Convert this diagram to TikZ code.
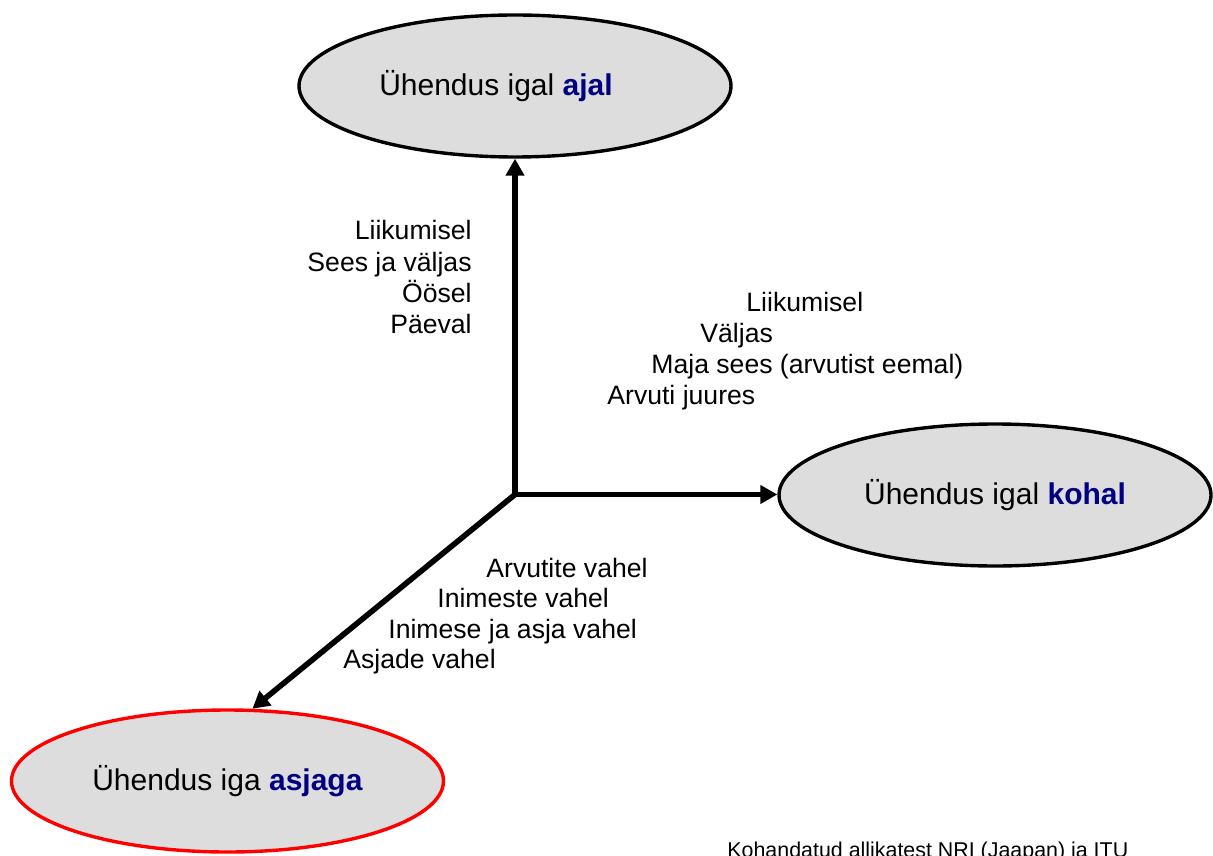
\documentclass[tikz,border=0pt]{standalone}
\usepackage{fontspec}
\setmainfont{Liberation Sans}
\usetikzlibrary{shapes.geometric,arrows.meta}
\definecolor{ovalfill}{HTML}{DDDDDD}
\definecolor{keyblue}{HTML}{000080}
\definecolor{ovalred}{HTML}{FF0000}
\newcommand{\keyword}[1]{\textcolor{keyblue}{\textbf{#1}}}

\begin{document}
\begin{tikzpicture}[
  x=0.5pt, y=-0.5pt,
  oval/.style={ellipse, draw, line width=1.7pt, fill=ovalfill, minimum width=216pt,
    minimum height=71pt, inner sep=0pt, font=\fontsize{15}{18}\selectfont},
  item/.style={inner sep=0pt, font=\fontsize{13.3}{16}\selectfont},
  axis/.style={draw, line width=2.8pt, -{Triangle[length=8.5pt,width=9pt]}}
]
\clip (0,0) rectangle (1213,855);

% the three ovals
\node[oval] (aeg) at (515,86) {Ühendus igal \keyword{ajal}\hspace*{19pt}};
\node[oval] (koht) at (995,495) {Ühendus igal \keyword{kohal}};
\node[oval, draw=ovalred] (asi) at (227.5,781) {Ühendus iga \keyword{asjaga}};
\coordinate (hub) at (515,494.5);

% axes
\draw[axis] (hub) -- (aeg.south);
\draw[axis] (hub) -- (hub -| koht.west);
\draw[axis] (hub) -- (asi.71);

% time
\node[item, anchor=base east] (aeg1) at (472,240) {Liikumisel};
\node[item, anchor=base east] (aeg2) at (472,271) {Sees ja väljas};
\node[item, anchor=base east] (aeg3) at (472,302) {Öösel};
\node[item, anchor=base east] (aeg4) at (472,333) {Päeval};

% place
\node[item, anchor=base west] (koht1) at (746,312) {Liikumisel};
\node[item, anchor=base west] (koht2) at (700,342) {Väljas};
\node[item, anchor=base west] (koht3) at (651,373) {Maja sees (arvutist eemal)};
\node[item, anchor=base west] (koht4) at (607,404) {Arvuti juures};

% things
\node[item, anchor=base west] (asi1) at (486,577) {Arvutite vahel};
\node[item, anchor=base west] (asi2) at (437,607) {Inimeste vahel};
\node[item, anchor=base west] (asi3) at (388,638) {Inimese ja asja vahel};
\node[item, anchor=base west] (asi4) at (343,668) {Asjade vahel};

\node[inner sep=0pt, anchor=base west, font=\fontsize{10.7}{13}\selectfont] (allikas)
  at (727,857) {Kohandatud allikatest NRI (Jaapan) ja ITU};
\end{tikzpicture}
\end{document}
